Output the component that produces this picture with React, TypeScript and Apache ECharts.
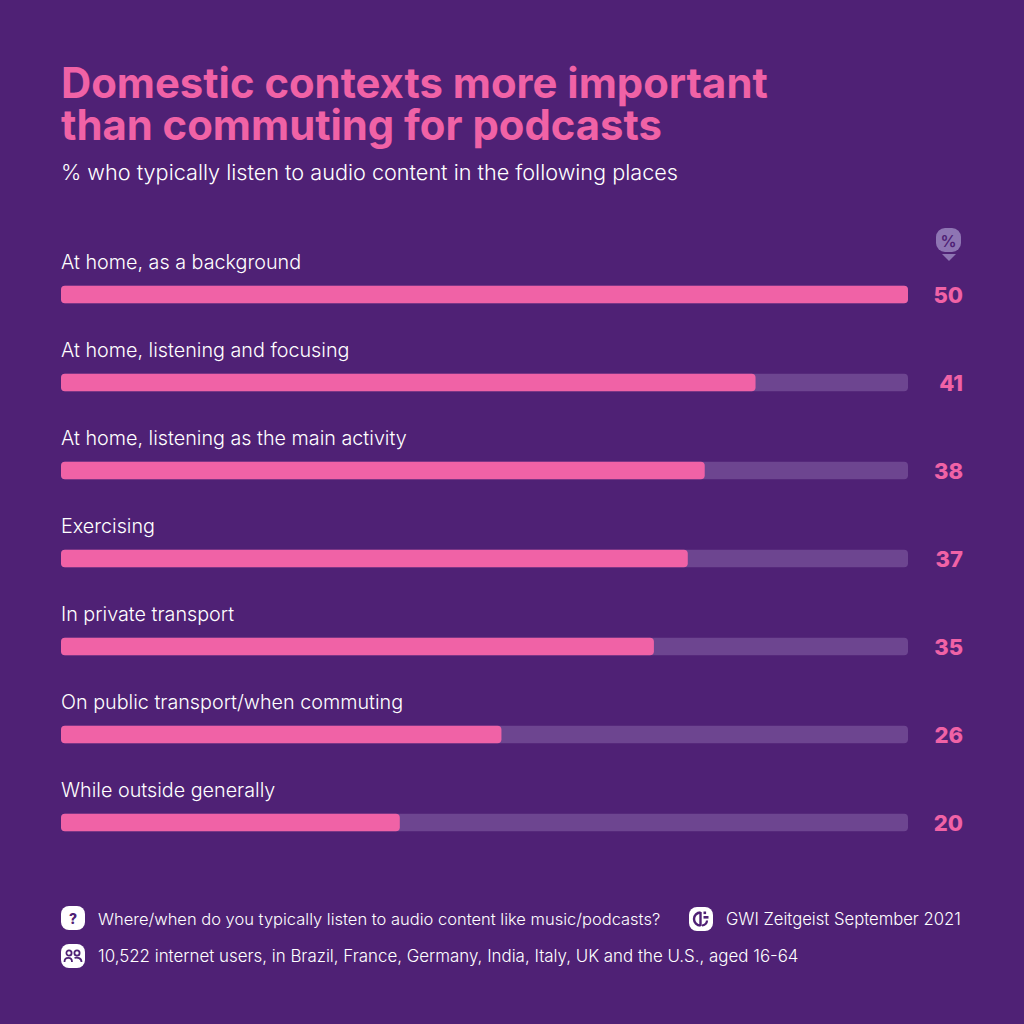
import React, { useEffect, useRef } from "react";
import * as echarts from "echarts";

const categories = [
  "At home, as a background",
  "At home, listening and focusing",
  "At home, listening as the main activity",
  "Exercising",
  "In private transport",
  "On public transport/when commuting",
  "While outside generally",
];
const values = [50, 41, 38, 37, 35, 26, 20];
const trackMax = 50;
const trackValues = categories.map(() => trackMax);

const titleLines = ["Domestic contexts more important", "than commuting for podcasts"];
const subtitleText = "% who typically listen to audio content in the following places";
const questionText = "Where/when do you typically listen to audio content like music/podcasts?";
const sourceText = "GWI Zeitgeist September 2021";
const sampleText = "10,522 internet users, in Brazil, France, Germany, India, Italy, UK and the U.S., aged 16-64";

const BG = "#4f2175";
const PINK = "#f062a6";
const TRACK = "#6d4590";
const WHITE = "#ffffff";
const BADGE = "#8e75b3";
const FONT = "Inter";

echarts.graphic.registerShape(
  "peopleIcon",
  echarts.graphic.extendPath(
    "M10.6 9A2.6 2.6 0 1 1 5.4 9A2.6 2.6 0 1 1 10.6 9Z M18.6 9A2.6 2.6 0 1 1 13.4 9A2.6 2.6 0 1 1 18.6 9Z M3.5 18C3.5 12.5 11 12.5 11 18 M13.5 14C16.5 13 20.5 14 20.5 18",
    {}
  ) as any
);

const textStyle = (text: string, x: number, y: number, fontSize: number, fill = WHITE, extra: any = {}) => ({
  type: "text",
  x,
  y,
  silent: true,
  style: { text, fill, fontSize, fontFamily: FONT, textVerticalAlign: "middle", ...extra },
});

export default function App() {
  const ref = useRef<HTMLDivElement>(null);
  useEffect(() => {
    document.body.style.margin = "0";
    const chart = echarts.init(ref.current!, undefined, { renderer: "svg" });
    chart.setOption({
      animation: false,
      backgroundColor: BG,
      grid: { left: 61, width: 847, top: 250.5, height: 616 },
      xAxis: { type: "value", min: 0, max: trackMax, show: false },
      yAxis: [
        {
          type: "category",
          inverse: true,
          data: categories,
          axisLine: { show: false },
          axisTick: { show: false },
          axisLabel: { show: false },
        },
        {
          type: "category",
          inverse: true,
          position: "right",
          data: values.map(String),
          axisLine: { show: false },
          axisTick: { show: false },
          axisLabel: {
            margin: 55,
            align: "right",
            color: PINK,
            fontSize: 22,
            fontWeight: 800,
            fontFamily: FONT,
          },
        },
      ],
      series: [
        {
          type: "bar",
          data: trackValues,
          barWidth: 17.5,
          barGap: "-100%",
          silent: true,
          itemStyle: { color: TRACK, borderRadius: 4 },
          label: {
            show: true,
            position: [0, -34],
            formatter: (p: any) => categories[p.dataIndex],
            color: WHITE,
            fontSize: 19.75,
            fontWeight: 300,
            fontFamily: FONT,
          },
        },
        {
          type: "bar",
          data: values,
          barWidth: 17.5,
          silent: true,
          itemStyle: { color: PINK, borderRadius: 4 },
        },
      ],
      graphic: [
        textStyle(titleLines[0], 61, 83, 41.8, PINK, { fontWeight: 700 }),
        textStyle(titleLines[1], 61, 125, 41.8, PINK, { fontWeight: 700 }),
        textStyle(subtitleText, 61, 172, 21.65, WHITE, { fontWeight: 300 }),
        { type: "rect", shape: { x: 936, y: 228, width: 25, height: 24, r: 9 }, style: { fill: BADGE } },
        {
          type: "text",
          x: 948.5,
          y: 240.5,
          style: { text: "%", fill: BG, fontSize: 16, fontWeight: 600, fontFamily: FONT, textAlign: "center", textVerticalAlign: "middle" },
        },
        {
          type: "polygon",
          shape: { points: [[942, 254], [956, 254], [949, 261]] },
          style: { fill: BADGE },
        },
        { type: "rect", shape: { x: 61, y: 906, width: 24, height: 24, r: 8 }, style: { fill: WHITE } },
        {
          type: "text",
          x: 73,
          y: 918.5,
          style: { text: "?", fill: BG, fontSize: 14, fontWeight: 800, fontFamily: FONT, textAlign: "center", textVerticalAlign: "middle" },
        },
        textStyle(questionText, 98, 919, 16.5, WHITE, { fontWeight: 300 }),
        { type: "rect", shape: { x: 61, y: 944, width: 24, height: 24, r: 8 }, style: { fill: WHITE } },
        {
          type: "peopleIcon",
          x: 61,
          y: 944,
          style: { fill: "none", stroke: BG, lineWidth: 1.8 },
        },
        textStyle(sampleText, 98, 956, 16.9, WHITE, { fontWeight: 300 }),
        { type: "rect", shape: { x: 689, y: 907, width: 24, height: 24, r: 8 }, style: { fill: WHITE } },
        { type: "arc", shape: { cx: 700.5, cy: 919, r: 6.5, startAngle: Math.PI / 2, endAngle: Math.PI * 1.5, clockwise: true }, style: { fill: "none", stroke: BG, lineWidth: 2.4 } },
        { type: "line", shape: { x1: 700.5, y1: 912, x2: 700.5, y2: 926 }, style: { stroke: BG, lineWidth: 2.4 } },
        { type: "rect", shape: { x: 703.5, y: 911.5, width: 2.6, height: 2.6 }, style: { fill: BG } },
        { type: "rect", shape: { x: 703.5, y: 916, width: 5, height: 2.6 }, style: { fill: BG } },
        { type: "arc", shape: { cx: 702, cy: 920.5, r: 5, startAngle: 0, endAngle: Math.PI / 2, clockwise: true }, style: { fill: "none", stroke: BG, lineWidth: 2.2 } },
        textStyle(sourceText, 726, 919, 16.65, WHITE, { fontWeight: 300 }),
      ],
    });
    return () => chart.dispose();
  }, []);
  return <div ref={ref} style={{ width: 1024, height: 1024 }} />;
}
